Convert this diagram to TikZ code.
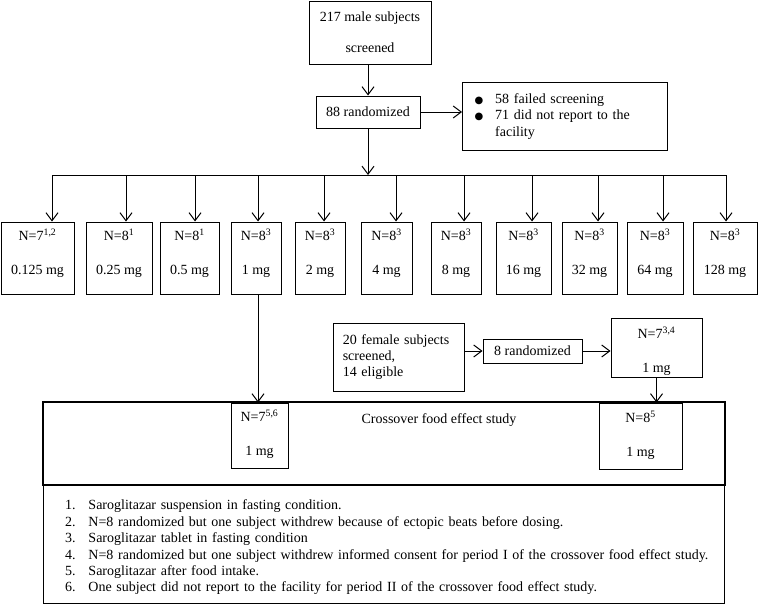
\documentclass[tikz,border=0pt]{standalone}
\usepackage{fontspec}
\setmainfont{Liberation Serif}
\newfontfamily\symfont{DejaVu Sans}
\usetikzlibrary{arrows.meta}
\newcommand{\lowdrop}[1]{\rule[-#1]{0pt}{#1}}
\newcommand{\bigdot}{{\symfont\fontsize{10}{10}\selectfont ●}}

\begin{document}
\begin{tikzpicture}[x=1pt,y=-1pt,line width=1pt,
  font=\fontsize{14}{16.4}\selectfont,
  box/.style={draw,inner sep=0pt,align=center},
  dose/.style={box,minimum height=72pt},
  arr/.style={-{Straight Barb[length=8pt,width=12pt]}}]
\useasboundingbox (0,0) rectangle (758,605);

% screening
\node [box,minimum width=122pt,minimum height=63pt] (male) at (370,32.5)
  {217 male subjects\\[15pt]screened};
\node [box,minimum width=104pt,minimum height=32pt] (rand88) at (368,112)
  {88 randomized};
\node [box,anchor=north west,minimum width=201pt,minimum height=68pt,
  text width=181pt,inner xsep=12pt,align=left] (excl) at (462,82)
  {\begin{tabular}{@{}l@{\hspace{12pt}}l@{}}
   \bigdot & 58 failed screening\\
   \bigdot & 71 did not report to the\\
           & facility
   \end{tabular}};

% dose groups
\node [dose,minimum width=73pt] (d1) at (37.5,258) {N=7\textsuperscript{1,2}\\[17.6pt]0.125 mg\lowdrop{13pt}};
\node [dose,minimum width=66pt] (d2) at (119,258) {N=8\textsuperscript{1}\\[17.6pt]0.25 mg\lowdrop{13pt}};
\node [dose,minimum width=59pt] (d3) at (189.5,258) {N=8\textsuperscript{1}\\[17.6pt]0.5 mg\lowdrop{13pt}};
\node [dose,minimum width=50pt] (d4) at (256,258) {N=8\textsuperscript{3}\\[17.6pt]1 mg\lowdrop{13pt}};
\node [dose,minimum width=50pt] (d5) at (320,258) {N=8\textsuperscript{3}\\[17.6pt]2 mg\lowdrop{13pt}};
\node [dose,minimum width=51pt] (d6) at (386.5,258) {N=8\textsuperscript{3}\\[17.6pt]4 mg\lowdrop{13pt}};
\node [dose,minimum width=50pt] (d7) at (456,258) {N=8\textsuperscript{3}\\[17.6pt]8 mg\lowdrop{13pt}};
\node [dose,minimum width=55pt] (d8) at (523.5,258) {N=8\textsuperscript{3}\\[17.6pt]16 mg\lowdrop{13pt}};
\node [dose,minimum width=55pt] (d9) at (589.5,258) {N=8\textsuperscript{3}\\[17.6pt]32 mg\lowdrop{13pt}};
\node [dose,minimum width=56pt] (d10) at (655,258) {N=8\textsuperscript{3}\\[17.6pt]64 mg\lowdrop{13pt}};
\node [dose,minimum width=64pt] (d11) at (725,258) {N=8\textsuperscript{3}\\[17.6pt]128 mg\lowdrop{13pt}};

% bus taps
\coordinate (t1) at (52,175);
\coordinate (t2) at (126,175);
\coordinate (t3) at (195,175);
\coordinate (t4) at (258,175);
\coordinate (t5) at (324,175);
\coordinate (t6) at (396,175);
\coordinate (t7) at (464,175);
\coordinate (t8) at (532,175);
\coordinate (t9) at (598,175);
\coordinate (t10) at (663,175);
\coordinate (t11) at (726,175);

% female arm
\node [box,minimum width=131pt,minimum height=68pt,text width=111.5pt,
  inner xsep=9.75pt,align=left] (female) at (398.5,357)
  {20 female subjects\\screened,\\14 eligible};
\node [box,minimum width=99pt,minimum height=24pt] (rand8) at (532.5,351)
  {8 randomized};
\node [box,minimum width=91pt,minimum height=59pt] (nf) at (656.5,347.5)
  {\rule{0pt}{19pt}N=7\textsuperscript{3,4}\\[17.6pt]1 mg};

% crossover study
\node [draw,line width=2.5pt,inner sep=0pt,minimum width=682pt,minimum height=83pt] (cross) at (384,443.5) {};
\node (ctitle) at (439,420) {Crossover food effect study};
\node [box,minimum width=57pt,minimum height=65pt] (cx1) at (259.5,435.5)
  {N=7\textsuperscript{5,6}\\[17.6pt]1 mg\lowdrop{5pt}};
\node [box,minimum width=83pt,minimum height=66pt] (cx2) at (640.5,436)
  {N=8\textsuperscript{5}\\[17.6pt]1 mg\lowdrop{5pt}};

% footnotes
\node [draw,anchor=north west,minimum width=681pt,minimum height=118pt,
  text width=638pt,inner xsep=21.5pt,inner ysep=0pt,align=left] (notes) at (43,485)
  {\begin{tabular}{@{}r@{\hspace{13pt}}l@{}}
   \rule{0pt}{17.9pt}1. & Saroglitazar suspension in fasting condition.\\
   2. & N=8 randomized but one subject withdrew because of ectopic beats before dosing.\\
   3. & Saroglitazar tablet in fasting condition\\
   4. & N=8 randomized but one subject withdrew informed consent for period I of the crossover food effect study.\\
   5. & Saroglitazar after food intake.\\
   6. & One subject did not report to the facility for period II of the crossover food effect study.
   \end{tabular}};

\draw (t1) -- (t11);

\path [arr]
(rand88.north |- male.south) edge (rand88.north)
(rand88.east) edge (rand88.east -| excl.west)
(rand88.south) edge (rand88.south |- t1)
(t1) edge (t1 |- d1.north)
(t2) edge (t2 |- d2.north)
(t3) edge (t3 |- d3.north)
(t4) edge (t4 |- d4.north)
(t5) edge (t5 |- d5.north)
(t6) edge (t6 |- d6.north)
(t7) edge (t7 |- d7.north)
(t8) edge (t8 |- d8.north)
(t9) edge (t9 |- d9.north)
(t10) edge (t10 |- d10.north)
(t11) edge (t11 |- d11.north)
(t4 |- d4.south) edge (t4 |- cx1.north)
(rand8.west -| female.east) edge (rand8.west)
(rand8.east) edge (rand8.east -| nf.west)
(nf.south) edge (nf.south |- cx2.north)
;
\end{tikzpicture}
\end{document}
